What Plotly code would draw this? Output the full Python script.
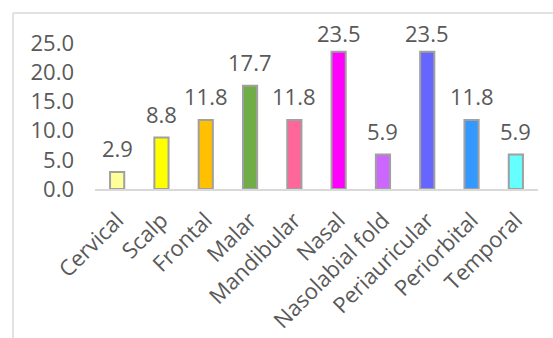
import plotly.graph_objects as go

categories = ["Cervical", "Scalp", "Frontal", "Malar", "Mandibular", "Nasal",
              "Nasolabial fold", "Periauricular", "Periorbital", "Temporal"]
values = [2.9, 8.8, 11.8, 17.7, 11.8, 23.5, 5.9, 23.5, 11.8, 5.9]
colors = ["#FFFF99", "#FFFF00", "#FFC000", "#70AD47", "#FF6699", "#FF00FF",
          "#CC66FF", "#6666FF", "#3399FF", "#66FFFF"]
y_ticks = [0, 5, 10, 15, 20, 25]
y_max = 25

W, H = 553, 338
L, R, T, B = 95, 15, 43, 149
pw, ph = W - L - R, H - T - B

font = dict(family="Open Sans, Lato, sans-serif", size=22, color="#595959")

fig = go.Figure(go.Bar(
    x=categories, y=values,
    marker=dict(color=colors, line=dict(color="#A0A0A0", width=2)),
    cliponaxis=False, hoverinfo="x+y",
))

# data labels: placed above each bar; kept inside the chart frame like Excel does
annotations = []
for c, v in zip(categories, values):
    room = T + (y_max - v) / y_max * ph - 33  # px between bar top and lowest allowed label centre
    shift = min(24, room)
    annotations.append(dict(x=c, y=v, xref="x", yref="y", text=f"{v:.1f}",
                            showarrow=False, yanchor="middle", yshift=shift,
                            font=font))

def px_x(p):
    return (p - L) / pw

def px_y(p):
    return (H - B - p) / ph

fig.update_layout(
    width=W, height=H,
    margin=dict(l=L, r=R, t=T, b=B, autoexpand=False),
    paper_bgcolor="white", plot_bgcolor="white",
    bargap=0.68, showlegend=False,
    font=font,
    annotations=annotations,
    xaxis=dict(showline=True, linecolor="#D9D9D9", linewidth=1.5, ticks="",
               tickangle=-45, tickfont=font, showgrid=False,
               ticklabelstandoff=8, automargin=False),
    yaxis=dict(range=[0, y_max], tickvals=y_ticks, tickformat=".1f",
               showgrid=False, showline=False, zeroline=False, ticks="",
               tickfont=font, ticklabelstandoff=20, automargin=False),
    shapes=[
        dict(type="line", xref="paper", yref="paper",
             x0=px_x(13), x1=px_x(560), y0=px_y(13), y1=px_y(13),
             line=dict(color="#D9D9D9", width=1.5)),
        dict(type="line", xref="paper", yref="paper",
             x0=px_x(13), x1=px_x(13), y0=px_y(13), y1=px_y(345),
             line=dict(color="#D9D9D9", width=1.5)),
    ],
)

fig.write_html("out.html")
